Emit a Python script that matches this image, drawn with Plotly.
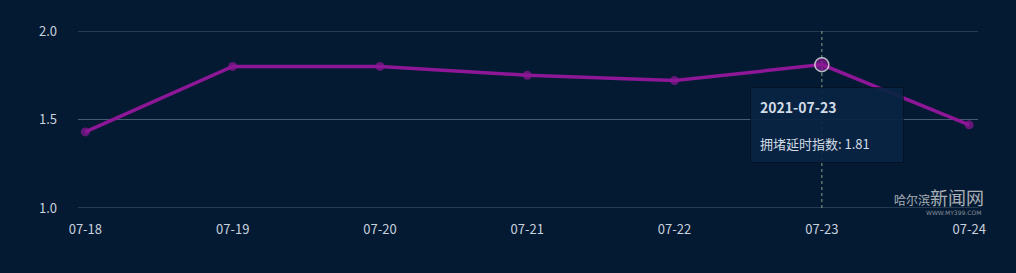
import plotly.graph_objects as go

dates = ["07-18", "07-19", "07-20", "07-21", "07-22", "07-23", "07-24"]
values = [1.43, 1.80, 1.80, 1.75, 1.72, 1.81, 1.47]
y_ticks = [1.0, 1.5, 2.0]
highlight_idx = 5
full_date = "2021-07-23"
series_name = "拥堵延时指数"

bg = "#041a33"
line_color = "#8d1796"
grid_color = "#475c70"

sizes = [9] * len(dates)
sizes[highlight_idx] = 14
line_colors = [line_color] * len(dates)
line_colors[highlight_idx] = "#ffffff"
line_widths = [0] * len(dates)
line_widths[highlight_idx] = 1.5

fig = go.Figure()

for yt in y_ticks:
    fig.add_shape(type="line", xref="paper", yref="y", x0=0, x1=1, y0=yt, y1=yt,
                  line=dict(color=grid_color, width=1.2), layer="below")

fig.add_shape(type="line", xref="x", yref="paper", x0=highlight_idx, x1=highlight_idx, y0=0, y1=1,
              line=dict(color="#7fa88a", width=1, dash="dot"), layer="below")

fig.add_trace(go.Scatter(
    x=list(range(len(dates))), y=values, mode="lines+markers",
    line=dict(color=line_color, width=3.5),
    marker=dict(size=sizes, color=line_color, line=dict(color=line_colors, width=line_widths)),
    hoverinfo="skip", showlegend=False, cliponaxis=False,
))

fig.add_annotation(
    xref="x", yref="paper", x=highlight_idx, y=0.684, xanchor="left", yanchor="top",
    xshift=-72, showarrow=False, align="left",
    text=f"<b>{full_date}</b><br><br><span style='font-size:13px'>{series_name}: {values[highlight_idx]}</span>",
    font=dict(family="Noto Sans CJK SC, sans-serif", size=14, color="#d2dbe6"),
    bgcolor="rgba(8,36,66,0.92)", bordercolor="rgba(0,0,0,0.35)", borderwidth=1, borderpad=9,
    width=134,
)

fig.add_annotation(
    xref="paper", yref="paper", x=1.0, y=0.06, xanchor="right", yanchor="middle", showarrow=False,
    text="<span style='font-size:12px'>哈尔滨</span>新闻网",
    font=dict(family="Noto Sans CJK SC, sans-serif", size=18, color="rgba(225,225,225,0.75)"),
    xshift=8,
)
fig.add_annotation(
    xref="paper", yref="paper", x=1.0, y=-0.025, xanchor="right", yanchor="middle", showarrow=False,
    text="WWW.MY399.COM", font=dict(family="DejaVu Sans, sans-serif", size=6, color="rgba(220,220,220,0.6)"),
    xshift=5,
)

fig.update_layout(
    width=1016, height=273, paper_bgcolor=bg, plot_bgcolor=bg,
    margin=dict(l=78, r=38, t=31, b=65),
    font=dict(family="Noto Sans CJK SC, sans-serif", size=13, color="#c8d2de"),
    xaxis=dict(
        tickmode="array", tickvals=list(range(len(dates))), ticktext=dates,
        range=[-0.05, len(dates) - 1 + 0.06], showgrid=False, zeroline=False,
        showline=False, ticks="", ticklabelstandoff=12,
    ),
    yaxis=dict(
        range=[1.0, 2.0], tickvals=y_ticks, ticktext=[f"{v:.1f}" for v in y_ticks],
        showgrid=False, zeroline=False, showline=False,
        ticks="", ticklabelstandoff=20,
    ),
)

fig.write_html("out.html")
